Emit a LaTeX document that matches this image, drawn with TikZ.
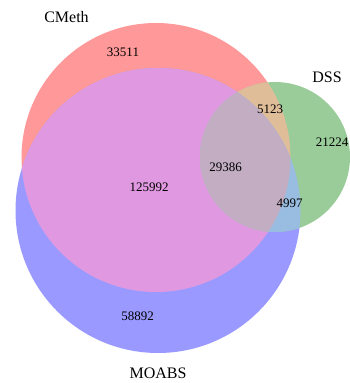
\documentclass[tikz,border=0pt]{standalone}
\usepackage{xcolor}
\usepackage{fontspec}
\setmainfont{Liberation Serif}

\definecolor{cmethonly}{RGB}{255,153,153}
\definecolor{moabsonly}{RGB}{153,153,255}
\definecolor{dssonly}{RGB}{153,204,153}
\definecolor{cmethmoabs}{RGB}{224,153,224}
\definecolor{cmethdss}{RGB}{224,189,153}
\definecolor{moabsdss}{RGB}{153,189,224}
\definecolor{allthree}{RGB}{194,173,194}

\tikzset{
  setname/.style={inner sep=0pt, font=\fontsize{16}{16}\selectfont},
  count/.style={inner sep=0pt, font=\fontsize{13}{13}\selectfont}
}

\begin{document}
\begin{tikzpicture}[x=1pt,y=-1pt]

\useasboundingbox (0,0) rectangle (349,383);

\def\cmeth{(156,157.5) circle (134.5)}
\def\moabs{(158,210.5) circle (142.5)}
\def\dss{(275,157) circle (75)}

\fill[cmethonly] \cmeth;
\fill[moabsonly] \moabs;
\fill[dssonly] \dss;
\begin{scope}
  \clip \cmeth;
  \fill[cmethmoabs] \moabs;
\end{scope}
\begin{scope}
  \clip \cmeth;
  \fill[cmethdss] \dss;
\end{scope}
\begin{scope}
  \clip \moabs;
  \fill[moabsdss] \dss;
\end{scope}
\begin{scope}
  \clip \cmeth;
  \clip \moabs;
  \fill[allthree] \dss;
\end{scope}

\node[setname] (cmethlabel) at (66.5,17.5) {CMeth};
\node[setname] (dsslabel) at (327,77.5) {DSS};
\node[setname] (moabslabel) at (158,373.5) {MOABS};

\node[count] (n100) at (123,52) {33511};
\node[count] (n101) at (270,109) {5123};
\node[count] (n001) at (332,142.5) {21224};
\node[count] (n111) at (225.5,167) {29386};
\node[count] (n110) at (149,187) {125992};
\node[count] (n011) at (289.5,203) {4997};
\node[count] (n010) at (137.5,316.5) {58892};

\end{tikzpicture}
\end{document}
